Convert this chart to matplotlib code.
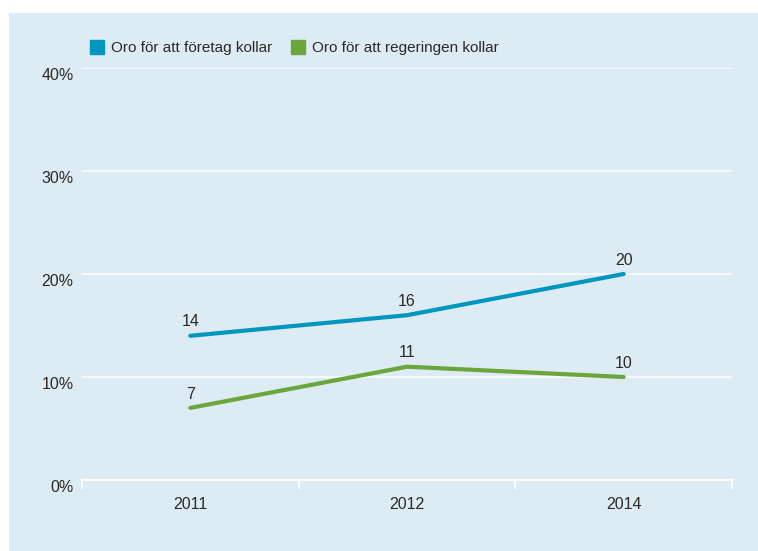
import matplotlib

matplotlib.use("Agg")
import matplotlib.pyplot as plt
from matplotlib.lines import Line2D
from matplotlib.patches import Rectangle

years = ["2011", "2012", "2014"]
foretag = [14, 16, 20]
regeringen = [7, 11, 10]
y_ticks = [0, 10, 20, 30, 40]
series_names = ["Oro för att företag kollar", "Oro för att regeringen kollar"]

BG = "#dcebf4"
BLUE = "#0096bd"
GREEN = "#6ba63c"
TXT = "#2d2924"

plt.rcParams["font.family"] = ["Liberation Sans", "DejaVu Sans"]
plt.rcParams["font.size"] = 11

fig = plt.figure(figsize=(7.58, 5.51), dpi=100)
fig.patches.append(Rectangle((9 / 758, 0), 1, 1 - 13 / 551, transform=fig.transFigure,
                             facecolor=BG, edgecolor="none", zorder=-10))

ax = fig.add_axes([82 / 758, 71 / 551, 650 / 758, 412 / 551])
ax.set_facecolor("none")
ax.set_zorder(2)

xs = [i + 0.5 for i in range(len(years))]
for vals, c in [(foretag, BLUE), (regeringen, GREEN)]:
    ax.plot(xs, vals, color=c, lw=3, solid_capstyle="round", zorder=3)
    for x, v in zip(xs, vals):
        ax.annotate(str(v), (x, v), xytext=(0, 10), textcoords="offset points",
                    ha="center", va="center", color=TXT, fontsize=11.5)

ax.set_xlim(0, len(years))
ax.set_ylim(0, 40)

# band edges carry the tick marks, labels sit in the middle of each band
ax.set_xticks(range(len(years) + 1))
ax.set_xticklabels([])
ax.set_xticks(xs, minor=True)
ax.set_xticklabels(years, minor=True)
ax.tick_params(axis="x", which="major", length=6.5, width=1.3, color="white")
ax.tick_params(axis="x", which="minor", length=0, pad=12, labelcolor=TXT, labelsize=11.5)

ax.set_yticks(y_ticks)
ax.set_yticklabels([f"{v}%" for v in y_ticks])
ax.tick_params(axis="y", length=0, pad=6, labelcolor=TXT, labelsize=11.5)
for lab in ax.get_yticklabels():
    lab.set_verticalalignment("top")

ax.yaxis.grid(True, color="white", lw=1.1)
for side in ["top", "right", "left"]:
    ax.spines[side].set_visible(False)
ax.spines["bottom"].set_color("white")
ax.spines["bottom"].set_linewidth(1.6)

handles = [Line2D([], [], marker="s", ls="none", markersize=10.5, color=c) for c in (BLUE, GREEN)]
leg = fig.legend(handles, series_names, loc="center left", bbox_to_anchor=(76 / 758, 1 - 48 / 551),
                 ncol=2, frameon=False, handletextpad=0.4, columnspacing=1.2, handlelength=1.0,
                 fontsize=11)
for t in leg.get_texts():
    t.set_color(TXT)

fig.savefig("out.png", dpi=100, facecolor="white")
